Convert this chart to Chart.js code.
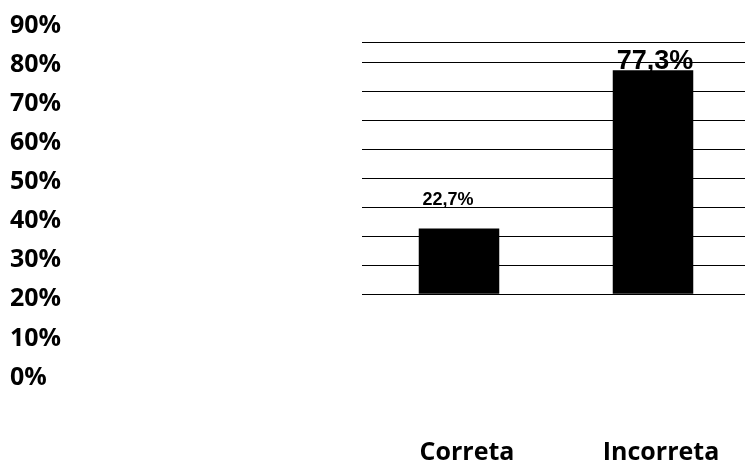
<!DOCTYPE html>
<html lang="pt">
<head>
    <meta charset="UTF-8">
    <title>Correta x Incorreta</title>
    <script src="https://cdn.jsdelivr.net/npm/chart.js"></script>
    <style>
        html, body {
            margin: 0;
            padding: 0;
            background: #ffffff;
            overflow: hidden;
        }
        #wrap {
            width: 750px;
            height: 464px;
        }
    </style>
</head>
<body>
    <div id="wrap"><canvas id="grafico"></canvas></div>

    <script>
        // dados
        const categorias = ['Correta', 'Incorreta'];
        const percentuais = [22.7, 77.3];
        const rotulosEixo = [0, 10, 20, 30, 40, 50, 60, 70, 80, 90];
        const linhasGrade = [0, 10, 20, 30, 40, 50, 60, 70, 80, 87];

        // estilo dos rótulos de valor de cada barra (deslocamento em px a partir do topo da barra)
        const estiloRotulos = [
            { size: 18, dx: -11, dy: -28 },
            { size: 27, dx: 2, dy: -9 }
        ];

        const fmt = v => v.toFixed(1).replace('.', ',') + '%';

        const rotulosValor = {
            id: 'rotulosValor',
            afterDatasetsDraw(chart) {
                const ctx = chart.ctx;
                const meta = chart.getDatasetMeta(0);
                ctx.save();
                ctx.fillStyle = '#000';
                ctx.textAlign = 'center';
                ctx.textBaseline = 'middle';
                meta.data.forEach((bar, i) => {
                    const s = estiloRotulos[i];
                    ctx.font = 'bold ' + s.size + 'px "Liberation Sans", Arial, sans-serif';
                    ctx.fillText(fmt(percentuais[i]), bar.x + s.dx, bar.y + s.dy);
                });
                ctx.restore();
            }
        };

        const fonteEixo = { family: '"Open Sans", sans-serif', size: 25, weight: 'bold' };

        new Chart(document.getElementById('grafico'), {
            type: 'bar',
            data: {
                labels: categorias,
                datasets: [{
                    data: percentuais,
                    backgroundColor: '#000',
                    borderWidth: 0,
                    yAxisID: 'y',
                    categoryPercentage: 1,
                    barPercentage: 0.415
                }]
            },
            options: {
                responsive: true,
                maintainAspectRatio: false,
                animation: false,
                layout: { padding: { left: 10, top: 25.5, right: 0, bottom: 0 } },
                plugins: {
                    legend: { display: false },
                    tooltip: { enabled: false }
                },
                scales: {
                    x: {
                        grid: {
                            display: true,
                            drawOnChartArea: false,
                            drawTicks: true,
                            tickLength: 60,
                            tickColor: 'rgba(0,0,0,0)'
                        },
                        border: { display: false },
                        ticks: {
                            color: '#000',
                            font: fonteEixo,
                            padding: 0,
                            labelOffset: 8,
                            maxRotation: 0
                        },
                        afterFit(scale) { scale.height = 86.5; }
                    },
                    // eixo de rótulos à esquerda (0% a 90%)
                    rotulos: {
                        type: 'linear',
                        position: 'left',
                        min: 0,
                        max: 90,
                        afterBuildTicks(scale) {
                            scale.ticks = rotulosEixo.map(v => ({ value: v }));
                        },
                        grid: { display: false },
                        border: { display: false },
                        ticks: {
                            color: '#000',
                            font: fonteEixo,
                            crossAlign: 'far',
                            padding: 0,
                            callback: v => v + '%'
                        },
                        afterFit(scale) { scale.width = 352; }
                    },
                    // escala das barras, só desenha as linhas de grade
                    y: {
                        type: 'linear',
                        position: 'right',
                        min: -28.7,
                        max: 92.7,
                        afterBuildTicks(scale) {
                            scale.ticks = linhasGrade.map(v => ({ value: v }));
                        },
                        grid: {
                            color: '#000',
                            lineWidth: 1,
                            drawTicks: false
                        },
                        border: { display: false },
                        ticks: { display: false },
                        afterFit(scale) { scale.width = 0; }
                    }
                }
            },
            plugins: [rotulosValor]
        });
    </script>
</body>
</html>
